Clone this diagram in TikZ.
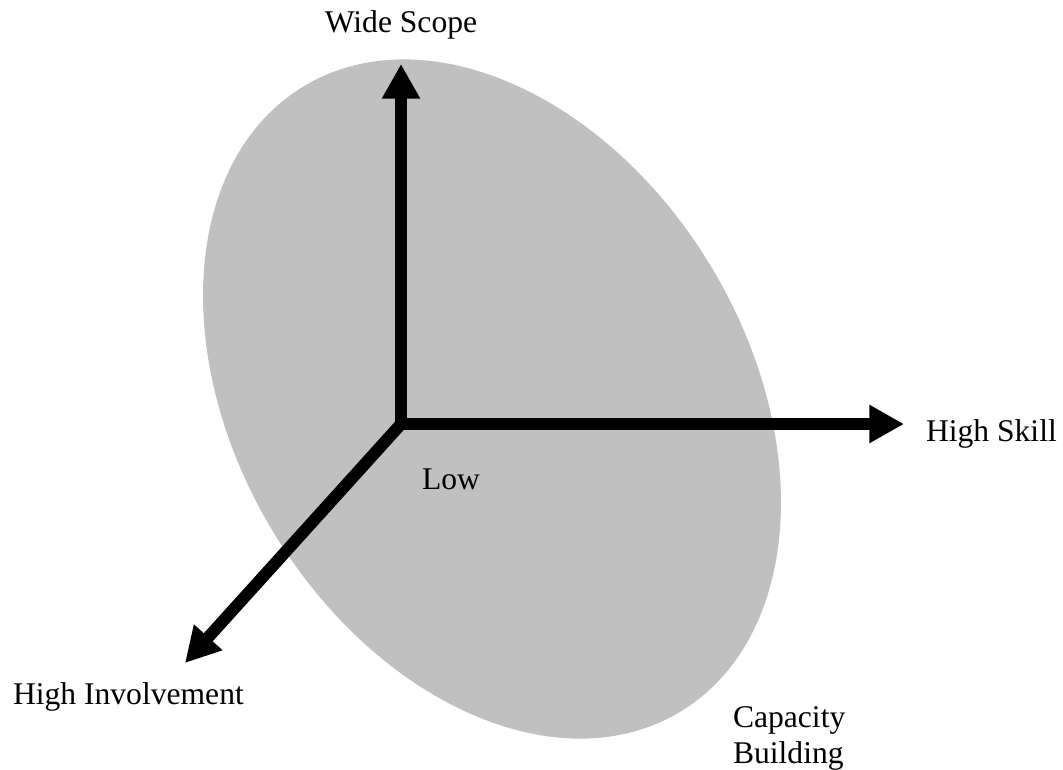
\documentclass[tikz,border=0pt]{standalone}
\usepackage{fontspec}
\setmainfont{Liberation Serif}
\usetikzlibrary{arrows.meta}
\definecolor{ellgray}{HTML}{C0C0C0}
\tikzset{
  axisline/.style={line width=9pt},
  lbl/.style={inner sep=0pt, outer sep=0pt, font=\fontsize{23.7}{27}\selectfont},
}
\begin{document}
\begin{tikzpicture}[x=0.75pt,y=0.75pt]
\useasboundingbox (0,0) rectangle (1063,-769);
\fill[ellgray, rotate around={-59:(492,-399)}] (492,-399) ellipse [x radius=365, y radius=256];
\coordinate (o) at (401,-424);
\coordinate (wtip) at (401,-64);
\coordinate (stip) at (904,-424);
\coordinate (itip) at (185,-663);
\draw[axisline, arrows={Triangle[length=26pt,width=27pt]-Triangle[length=26pt,width=27pt]}] (wtip) -- (o) -- (stip);
\draw[axisline, arrows={-Triangle[length=26pt,width=27pt]}] (o) -- (itip);
\node[lbl, anchor=base] (ws) at (401,-32) {Wide Scope};
\node[lbl, anchor=base west] (hs) at (926,-441) {High Skill};
\node[lbl, anchor=base west] (low) at (422,-489) {Low};
\node[lbl, anchor=base west] (hi) at (13,-704) {High Involvement};
\node[lbl, anchor=north west, align=left] (cb) at (733,-707) {Capacity\\Building};
\end{tikzpicture}
\end{document}
